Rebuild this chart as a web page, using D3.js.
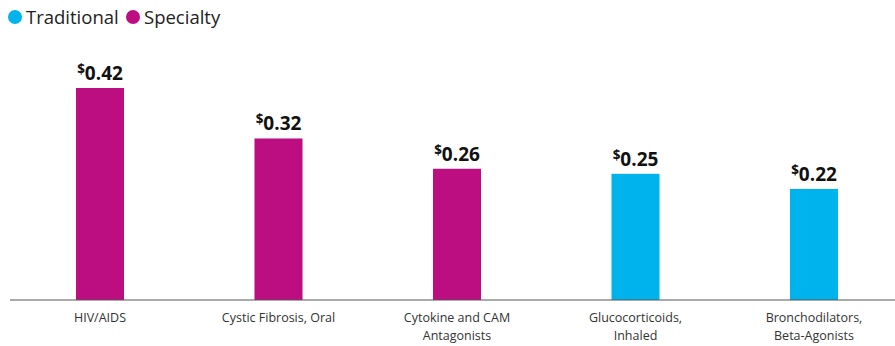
<!DOCTYPE html>
<html lang="en">
<head>
    <meta charset="UTF-8">
    <title>Cost per member</title>
    <script src="https://d3js.org/d3.v7.min.js"></script>
    <style>
        body { margin: 0; background: #fff; }
        text { font-family: "Open Sans", sans-serif; }
    </style>
</head>
<body>
    <div id="chart"></div>

    <script type="text/javascript">
        // data
        var categories = [
            ["HIV/AIDS"],
            ["Cystic Fibrosis, Oral"],
            ["Cytokine and CAM", "Antagonists"],
            ["Glucocorticoids,", "Inhaled"],
            ["Bronchodilators,", "Beta-Agonists"]
        ];
        var values = [0.42, 0.32, 0.26, 0.25, 0.22];
        var types = ["Specialty", "Specialty", "Specialty", "Traditional", "Traditional"];
        var legendItems = ["Traditional", "Specialty"];

        var width = 895, height = 346;
        var baseline = 300;

        var color = d3.scaleOrdinal()
            .domain(legendItems)
            .range(["#00B3EC", "#BC0E80"]);

        var svg = d3.select("#chart").append("svg")
            .attr("width", width)
            .attr("height", height);

        var x = d3.scaleBand()
            .domain(d3.range(categories.length))
            .range([10.75, 903.25])
            .paddingInner(0.731)
            .paddingOuter(0.3655);

        var y = d3.scaleLinear()
            .domain([0, 0.42])
            .range([baseline, 88]);

        // bars
        svg.selectAll("rect.bar")
            .data(values)
            .enter().append("rect")
            .attr("class", "bar")
            .attr("x", function(d, i) { return x(i); })
            .attr("width", x.bandwidth())
            .attr("y", function(d) { return y(d); })
            .attr("height", function(d) { return baseline - y(d); })
            .attr("fill", function(d, i) { return color(types[i]); });

        // value labels, small raised $ then the number
        var lab = svg.selectAll("text.val")
            .data(values)
            .enter().append("text")
            .attr("class", "val")
            .attr("x", function(d, i) { return x(i) + x.bandwidth() / 2; })
            .attr("y", function(d) { return y(d) - 8; })
            .attr("text-anchor", "middle")
            .attr("fill", "#111")
            .style("font-weight", "bold");
        lab.append("tspan")
            .attr("font-size", 13.5)
            .attr("dy", -6)
            .text("$");
        lab.append("tspan")
            .attr("font-size", 19)
            .attr("dy", 6)
            .text(function(d) { return d.toFixed(2); });

        // axis line
        svg.append("line")
            .attr("x1", 10).attr("x2", width)
            .attr("y1", baseline).attr("y2", baseline)
            .attr("stroke", "#555")
            .attr("stroke-width", 1);

        // category labels
        var cat = svg.selectAll("text.cat")
            .data(categories)
            .enter().append("text")
            .attr("class", "cat")
            .attr("text-anchor", "middle")
            .attr("font-size", 12.5)
            .attr("fill", "#333")
            .attr("x", function(d, i) { return x(i) + x.bandwidth() / 2; })
            .attr("y", 322);
        cat.selectAll("tspan")
            .data(function(d) { return d; })
            .enter().append("tspan")
            .attr("x", function() { return d3.select(this.parentNode).attr("x"); })
            .attr("dy", function(d, i) { return i === 0 ? 0 : 18; })
            .text(function(d) { return d; });

        // legend
        var legendX = [15, 133];
        var lg = svg.selectAll("g.legend")
            .data(legendItems)
            .enter().append("g")
            .attr("class", "legend")
            .attr("transform", function(d, i) { return "translate(" + legendX[i] + ",17)"; });
        lg.append("circle")
            .attr("r", 7)
            .attr("fill", function(d) { return color(d); });
        lg.append("text")
            .attr("x", 11)
            .attr("y", 6.5)
            .attr("font-size", 18.5)
            .attr("fill", "#222")
            .text(function(d) { return d; });
    </script>
</body>
</html>
